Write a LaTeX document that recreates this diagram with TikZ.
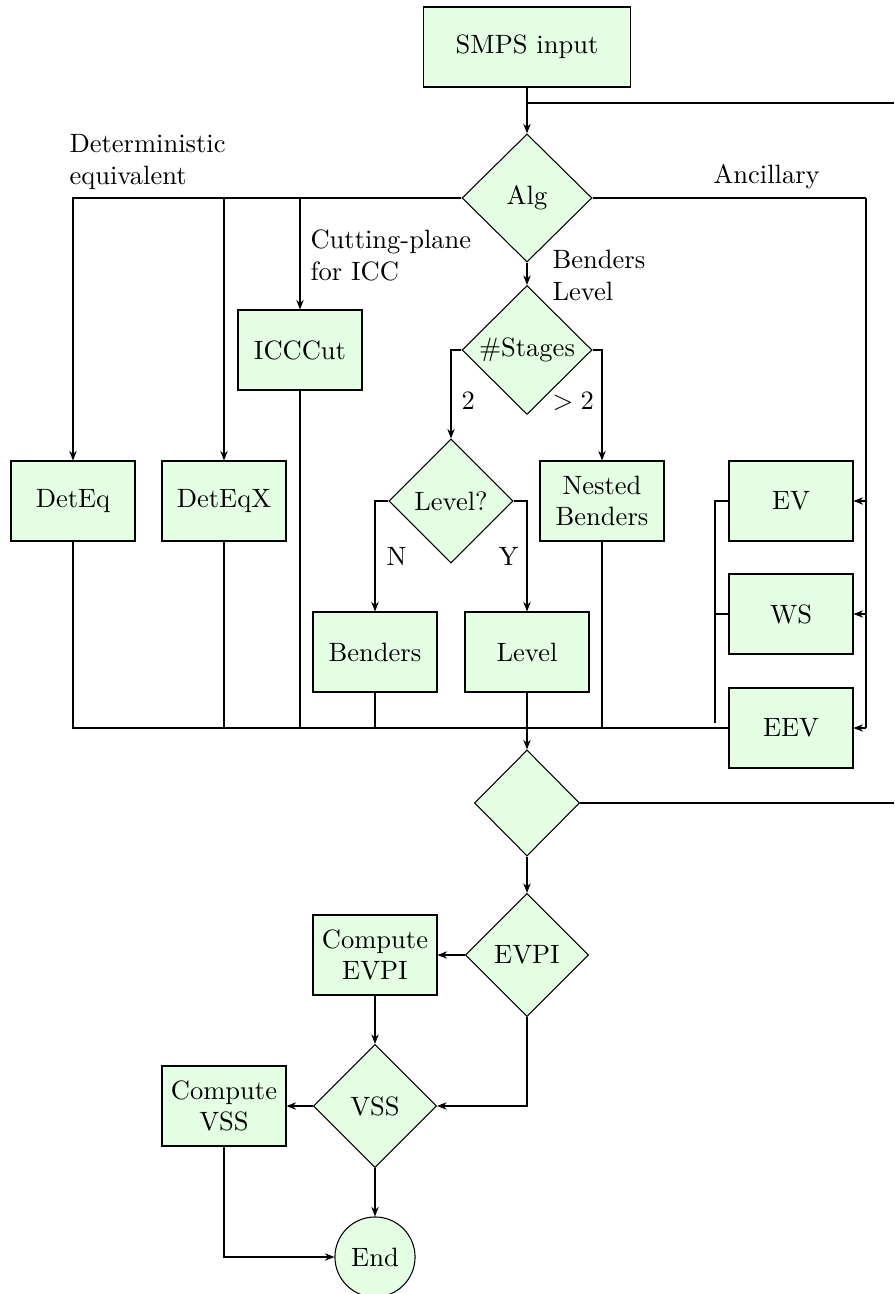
\documentclass[tikz,border=0pt]{standalone}
\usetikzlibrary{shapes.geometric,arrows.meta}
\definecolor{boxfill}{RGB}{229,255,229}
\begin{document}
\begin{tikzpicture}[x=0.377pt,y=-0.377pt,
  every node/.style={font=\normalsize},
  proc/.style={rectangle,draw=black,fill=boxfill,minimum width=46.75pt,minimum height=30.16pt,align=center,inner sep=1pt},
  decide/.style={diamond,draw=black,fill=boxfill,inner sep=0.5pt,align=center},
  stopnode/.style={circle,draw=black,fill=boxfill,minimum size=30.2pt,inner sep=0pt},
  lbl/.style={inner sep=0pt,align=left},
  arr/.style={-{Stealth[length=3.6pt,width=2.8pt]}},
  link/.style={line width=0.4pt}
]
\useasboundingbox (0,0) rectangle (894,1294);

% main flow
\node[proc,minimum width=77.7pt] (smps) at (527,47) {SMPS input};
\node[decide,minimum width=49pt,minimum height=48.3pt] (alg) at (527,198) {Alg};
\node[decide,minimum width=49pt,minimum height=48.6pt] (stages) at (527,350) {\#Stages};
\node[decide,minimum width=46.75pt,minimum height=46.75pt] (levq) at (451,501) {Level?};
\node[proc] (nested) at (602,501) {Nested\\Benders};
\node[proc] (benders) at (375,652) {Benders};
\node[proc] (level) at (527,652) {Level};
\node[proc] (icccut) at (300,350) {ICCCut};
\node[proc] (deteq) at (73,501) {DetEq};
\node[proc] (deteqx) at (224,501) {DetEqX};
\node[proc] (ev) at (791,501) {EV};
\node[proc] (ws) at (791,614) {WS};
\node[proc] (eev) at (791,728) {EEV};
\node[decide,minimum width=39.6pt,minimum height=40pt] (merge) at (527,803) {};
\node[decide,minimum width=46.4pt,minimum height=46.4pt] (evpi) at (527,955) {EVPI};
\node[proc] (cevpi) at (375,955) {Compute\\EVPI};
\node[decide,minimum width=46.4pt,minimum height=46.4pt] (vss) at (375,1106) {VSS};
\node[proc] (cvss) at (224,1106) {Compute\\VSS};
\node[stopnode] (end) at (375,1257) {End};

% labels
\node[lbl,anchor=north west] (ldet) at (69,134) {Deterministic\\equivalent};
\node[lbl,anchor=north west] (lcut) at (310,229) {Cutting-plane\\for ICC};
\node[lbl,anchor=north west] (lben) at (552,250) {Benders\\Level};
\node[lbl,anchor=base west] (lanc) at (713,184) {Ancillary};
\node[lbl,anchor=base west] (ltwo) at (461,410) {2};
\node[lbl,anchor=base west] (lmore) at (552,410) {$>2$};
\node[lbl,anchor=base west] (ln) at (386,565) {N};
\node[lbl,anchor=base west] (ly) at (498,565) {Y};

% side rails
\coordinate (rtop) at (894,103);
\coordinate (anc) at (866,198);
\coordinate (rmid) at (894,803);
\coordinate (evrail) at (715,501);
\coordinate (evrailend) at (715,723);

\begin{scope}[link]
% input to algorithm choice
\draw[arr] (smps) -- (alg);
\draw (smps.south |- rtop) -- (rtop);

% deterministic equivalent and cutting-plane branches
\draw[arr] (alg.west) -| (deteq);
\draw[arr] (alg.west) -| (deteqx);
\draw[arr] (alg.west) -| (icccut);

% Benders / Level branch
\draw[arr] (alg) -- (stages);
\draw[arr] (stages.west) -| (levq);
\draw[arr] (stages.east) -| (nested);
\draw[arr] (levq.west) -| (benders);
\draw[arr] (levq.east) -| (level);

% ancillary branch
\draw (alg.east) -- (anc);
\draw (anc) -- (anc |- eev.east);
\draw[arr] (anc |- ev.east) -- (ev.east);
\draw[arr] (anc |- ws.east) -- (ws.east);
\draw[arr] (anc |- eev.east) -- (eev.east);
\draw (ev.west) -- (evrail) -- (evrailend);
\draw (ws.west) -- (evrail |- ws.west);

% collecting bus
\draw (deteq.south) |- (eev.west);
\draw (deteqx.south) -- (deteqx.south |- eev.west);
\draw (icccut.south) -- (icccut.south |- eev.west);
\draw (benders.south) -- (benders.south |- eev.west);
\draw (nested.south) -- (nested.south |- eev.west);
\draw[arr] (level) -- (merge);

% post-processing
\draw (merge.east) -- (rmid);
\draw[arr] (merge) -- (evpi);
\draw[arr] (evpi) -- (cevpi);
\draw[arr] (cevpi) -- (vss);
\draw[arr] (evpi.south) |- (vss.east);
\draw[arr] (vss) -- (cvss);
\draw[arr] (vss) -- (end);
\draw[arr] (cvss.south) |- (end.west);
\end{scope}
\end{tikzpicture}
\end{document}
